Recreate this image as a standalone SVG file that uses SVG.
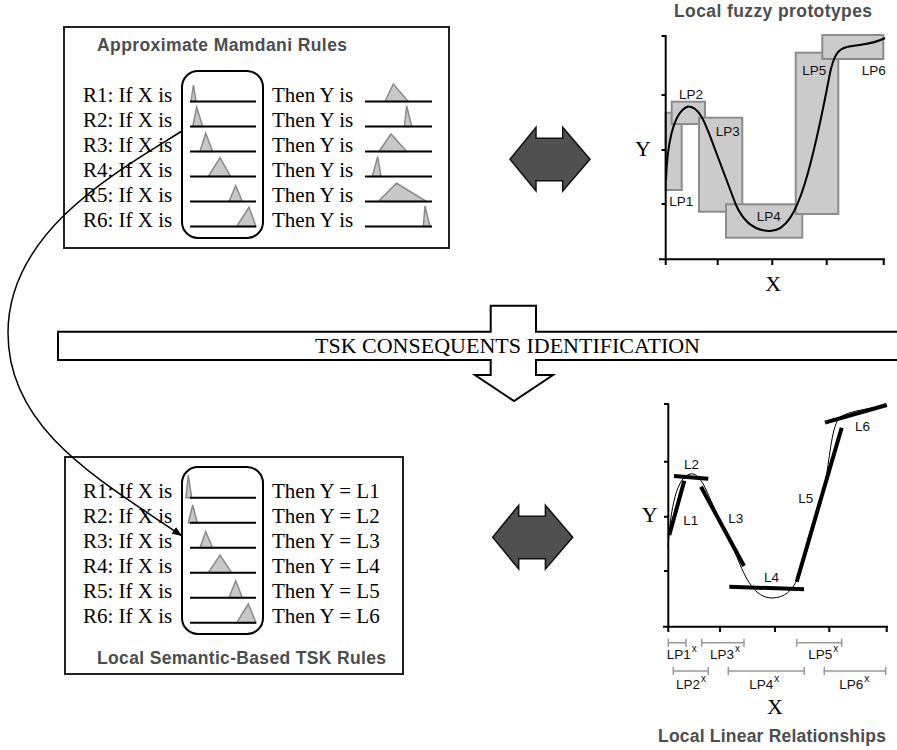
<svg xmlns="http://www.w3.org/2000/svg" width="897" height="750" viewBox="0 0 897 750">
<style>
.box{fill:#fff;stroke:#222;stroke-width:2}
.rr{fill:none;stroke:#000;stroke-width:2}
.ln{stroke:#000;stroke-width:2;fill:none}
.tri{fill:#c8c8c8;stroke:#8a8a8a;stroke-width:1.5}
.rule{font-family:"Liberation Serif","Times New Roman",serif;font-size:21px;fill:#000}
.title{font-family:"Liberation Sans",Arial,sans-serif;font-weight:bold;font-size:17.5px;fill:#4d4d4d}
.lbl{font-family:"Liberation Sans",Arial,sans-serif;font-size:13.5px;fill:#111}
.sup{font-size:10px}
.axl{font-family:"Liberation Serif","Times New Roman",serif;font-size:22px;fill:#000}
.ax{stroke:#000;stroke-width:2;fill:none}
.lp{fill:#cbcbcb;stroke:#8c8c8c;stroke-width:2}
.dbl{fill:#505050;stroke:#111;stroke-width:1.5}
.iv{stroke:#999;stroke-width:1.5;fill:none}
.thick{stroke:#000;stroke-width:4;stroke-linecap:butt}
</style>
<defs>
<marker id="ah" viewBox="0 0 10 8" refX="10" refY="4" markerWidth="10" markerHeight="8" orient="auto" markerUnits="userSpaceOnUse">
<path d="M0,0 L10,4 L0,8 z" fill="#000"/>
</marker>
</defs>
<rect width="897" height="750" fill="#fff"/>

<g id="mamdani-box">
<rect class="box" x="64" y="27" width="385" height="221"/>
<text class="title" x="97" y="50.7" textLength="250">Approximate Mamdani Rules</text>
<rect class="rr" x="182" y="71" width="81" height="167" rx="16"/>
<g class="tri">
<polygon points="191,101.5 193.5,85 196,101.5"/>
<polygon points="192.7,126.5 196.7,107.3 202.7,126.5"/>
<polygon points="200,151.5 205.7,133.3 212.7,151.5"/>
<polygon points="208.3,176.5 220,157.7 230.7,176.5"/>
<polygon points="229,201.5 235.7,185.7 242.3,201.5"/>
<polygon points="236.7,226.5 249,207.3 256,226.5"/>
<polygon points="385,101.5 393.3,84 408.3,101.5"/>
<polygon points="404.3,126.5 406.7,106 411.7,126.5"/>
<polygon points="379,151.5 391,134 406.7,151.5"/>
<polygon points="372.3,176.5 377.7,156.7 381,176.5"/>
<polygon points="378.3,201.5 396.5,183.3 426.7,201.5"/>
<polygon points="423.3,226.5 425,206 430,226.5"/>
</g>
<g class="ln">
<path d="M190,101.5H256M190,126.5H256M190,151.5H256M190,176.5H256M190,201.5H256M190,226.5H256"/>
<path d="M365,101.5H432M365,126.5H432M365,151.5H432M365,176.5H432M365,201.5H432M365,226.5H432"/>
</g>
<g class="rule">
<text x="83" y="101.5">R1: If X is</text>
<text x="83" y="126.5">R2: If X is</text>
<text x="83" y="151.5">R3: If X is</text>
<text x="83" y="176.5">R4: If X is</text>
<text x="83" y="201.5">R5: If X is</text>
<text x="83" y="226.5">R6: If X is</text>
<text x="272" y="101.5">Then Y is</text>
<text x="272" y="126.5">Then Y is</text>
<text x="272" y="151.5">Then Y is</text>
<text x="272" y="176.5">Then Y is</text>
<text x="272" y="201.5">Then Y is</text>
<text x="272" y="226.5">Then Y is</text>
</g>
</g>

<g id="tsk-box">
<rect class="box" x="65" y="457" width="338" height="217"/>
<rect class="rr" x="182" y="467" width="81" height="167" rx="16"/>
<g class="tri">
<polygon points="186,497.7 188.3,475 191.7,497.7"/>
<polygon points="188.3,522.7 192.7,505 197.3,522.7"/>
<polygon points="200,547.7 205.7,531.7 212.7,547.7"/>
<polygon points="208.3,572.7 220,555 231.7,572.7"/>
<polygon points="229,597.7 235.7,580.7 242.3,597.7"/>
<polygon points="236.7,622.7 248.3,604 256,622.7"/>
</g>
<path class="ln" d="M190,497.7H256M190,522.7H256M190,547.7H256M190,572.7H256M190,597.7H256M190,622.7H256"/>
<g class="rule">
<text x="83" y="497.7">R1: If X is</text>
<text x="83" y="522.7">R2: If X is</text>
<text x="83" y="547.7">R3: If X is</text>
<text x="83" y="572.7">R4: If X is</text>
<text x="83" y="597.7">R5: If X is</text>
<text x="83" y="622.7">R6: If X is</text>
<text x="272" y="497.7">Then Y = L1</text>
<text x="272" y="522.7">Then Y = L2</text>
<text x="272" y="547.7">Then Y = L3</text>
<text x="272" y="572.7">Then Y = L4</text>
<text x="272" y="597.7">Then Y = L5</text>
<text x="272" y="622.7">Then Y = L6</text>
</g>
<text class="title" x="97" y="664.3" textLength="289">Local Semantic-Based TSK Rules</text>
</g>

<g id="fuzzy-prototypes">
<text class="title" x="674" y="17.3" textLength="198">Local fuzzy prototypes</text>
<rect class="lp" x="665.7" y="112.7" width="16" height="77.3"/>
<rect class="lp" x="671.7" y="101.7" width="33.3" height="22.3"/>
<rect class="lp" x="699" y="117.7" width="43.3" height="94"/>
<rect class="lp" x="726" y="204.3" width="76.3" height="33.4"/>
<rect class="lp" x="795.7" y="52.7" width="42.6" height="161.3"/>
<rect class="lp" x="822.3" y="35" width="61" height="24"/>
<path class="ax" d="M665.7,35V265M659,259.3H885M661.5,36H665.7M661.5,95H665.7M661.5,150H665.7M661.5,204H665.7M717.7,259.3V265M772.3,259.3V265M826.7,259.3V265M883.7,259.3V265"/>
<path class="ln" d="M666,180 C667,150 672,112 688,106.5 C700,106 706,125 716,152 L736,205 C745,225 758,231 770,231 C786,231 796,212 805,183 C812,160 823,110 830,73 C834,55 838,49 847,47 C860,44 872,45 885,38"/>
<g class="lbl">
<text x="669.3" y="205.7">LP1</text>
<text x="679" y="99">LP2</text>
<text x="715.7" y="135.7">LP3</text>
<text x="756.7" y="220.7">LP4</text>
<text x="802.3" y="75">LP5</text>
<text x="861.7" y="75">LP6</text>
</g>
<text class="axl" x="635" y="155.7">Y</text>
<text class="axl" x="773.3" y="290.7" text-anchor="middle">X</text>
</g>

<g id="tsk-identification">
<path d="M900,331.7 L536,331.7 L536,305.7 L490.7,305.7 L490.7,331.7 L58,331.7 L58,360 L490.7,360 L490.7,375 L475,375 L514,401 L553,375 L536,375 L536,360 L900,360" fill="#fff" stroke="#000" stroke-width="2"/>
<text x="315" y="353" style="font-family:'Liberation Serif','Times New Roman',serif;font-size:22px;fill:#000">TSK CONSEQUENTS IDENTIFICATION</text>
</g>

<g id="dbl-arrow-top">
<path class="dbl" d="M510,159.3 L536,127.3 L536,138.3 L562.7,138.3 L562.7,127.3 L590,159.3 L562.7,191 L562.7,180.7 L536,180.7 L536,191 Z"/>
</g>
<g id="dbl-arrow-bottom">
<path class="dbl" d="M492.7,537.3 L518.7,505.3 L518.7,516.3 L545.4,516.3 L545.4,505.3 L572.7,537.3 L545.4,569 L545.4,558.7 L518.7,558.7 L518.7,569 Z"/>
</g>

<g id="linear-relationships">
<path class="ax" d="M668.3,403.3V632M663,626.7H888M664,404H668.3M664,461.7H668.3M664,516.7H668.3M664,571H668.3M720,626.7V632M775,626.7V632M829.3,626.7V632M886.7,626.7V632"/>
<path d="M668,547 C670,520 674,478 690,474 C700,472 706,490 712,503 L737,557 C745,578 755,598 772,598 C785,598 792,590 797,580 C805,560 818,515 826,478 C830,455 832,425 840,417 C852,410 870,409 887,405" fill="none" stroke="#000" stroke-width="1"/>
<g class="thick">
<line x1="669.3" y1="535" x2="684.3" y2="480.7"/>
<line x1="674" y1="476" x2="708.3" y2="478.7"/>
<line x1="701" y1="486.7" x2="744" y2="566"/>
<line x1="729.3" y1="586.7" x2="804" y2="589.3"/>
<line x1="796.7" y1="581.7" x2="841.7" y2="427.7"/>
<line x1="825" y1="422.7" x2="886.7" y2="405"/>
</g>
<g class="lbl">
<text x="684" y="469">L2</text>
<text x="683.3" y="525">L1</text>
<text x="728.3" y="523.3">L3</text>
<text x="764" y="581.7">L4</text>
<text x="798.3" y="502.7">L5</text>
<text x="855" y="430.7">L6</text>
</g>
<g class="iv">
<path d="M668.3,642.7H686M668.3,638.7V646.7M686,638.7V646.7"/>
<path d="M701.7,642.7H744M701.7,638.7V646.7M744,638.7V646.7"/>
<path d="M796.7,642.7H841.7M796.7,638.7V646.7M841.7,638.7V646.7"/>
<path d="M673.3,671H708.3M673.3,667V675M708.3,667V675"/>
<path d="M728.3,671H804.3M728.3,667V675M804.3,667V675"/>
<path d="M824.3,671H885.7M824.3,667V675M885.7,667V675"/>
</g>
<g class="lbl">
<text x="666.7" y="659.3">LP1<tspan class="sup" dx="1" dy="-7">x</tspan></text>
<text x="710" y="659.3">LP3<tspan class="sup" dx="1" dy="-7">x</tspan></text>
<text x="808.3" y="659.3">LP5<tspan class="sup" dx="1" dy="-7">x</tspan></text>
<text x="676" y="689">LP2<tspan class="sup" dx="1" dy="-7">x</tspan></text>
<text x="749.3" y="689">LP4<tspan class="sup" dx="1" dy="-7">x</tspan></text>
<text x="839.3" y="689">LP6<tspan class="sup" dx="1" dy="-7">x</tspan></text>
</g>
<text class="axl" x="641.7" y="521.7">Y</text>
<text class="axl" x="775" y="714.3" text-anchor="middle">X</text>
<text class="title" x="658" y="741.7" textLength="228">Local Linear Relationships</text>
</g>

<g id="connectors">
<path d="M182,131 C120,170 8,230 8,333 C8,430 100,480 182,536" fill="none" stroke="#000" stroke-width="1.5" marker-end="url(#ah)"/>
</g>
</svg>
